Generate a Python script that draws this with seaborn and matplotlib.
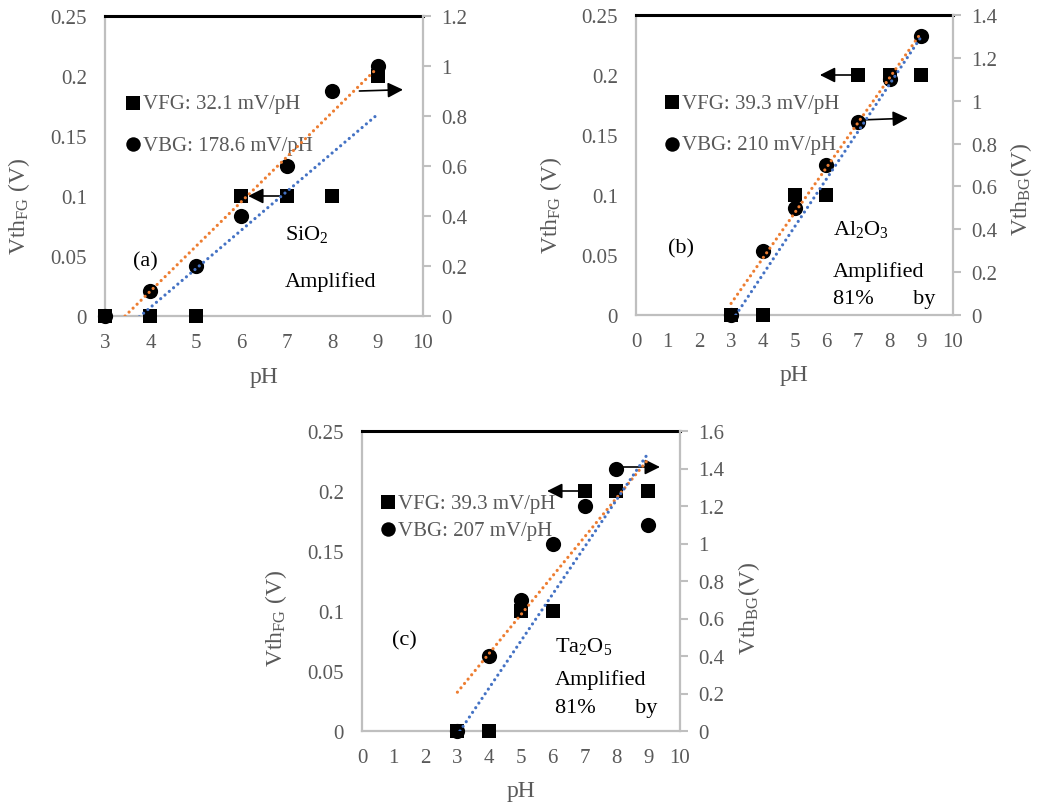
import matplotlib
matplotlib.use("Agg")
import matplotlib.pyplot as plt
import seaborn as sns

# ---------------- data ----------------
ph = [3, 4, 5, 6, 7, 8, 9]
vfg_a = [0, 0, 0, 0.1, 0.1, 0.1, 0.2]
vbg_a = [0, 0.1, 0.2, 0.4, 0.6, 0.9, 1.0]
vfg_b = [0, 0, 0.1, 0.1, 0.2, 0.2, 0.2]
vbg_b = [0, 0.3, 0.5, 0.7, 0.9, 1.1, 1.3]
vfg_c = [0, 0, 0.1, 0.1, 0.2, 0.2, 0.2]
vbg_c = [0, 0.4, 0.7, 1.0, 1.2, 1.4, 1.1]

# trendline end points (FG in left-axis units, BG in right-axis units)
fg_trend_x_a = [3, 9]
fg_trend_y_a = [-0.025, 0.168]
bg_trend_x_a = [3, 9]
bg_trend_y_a = [-0.079, 0.993]
fg_trend_x_b = [3.15, 9.0]
fg_trend_y_b = [0.0, 0.232]
bg_trend_x_b = [3, 9]
bg_trend_y_b = [0.054, 1.318]
fg_trend_x_c = [3.08, 8.96]
fg_trend_y_c = [0.0, 0.23]
bg_trend_x_c = [3, 9]
bg_trend_y_c = [0.207, 1.449]

legend_fg = ["VFG: 32.1 mV/pH", "VFG: 39.3 mV/pH", "VFG: 39.3 mV/pH"]
legend_bg = ["VBG: 178.6 mV/pH", "VBG: 210 mV/pH", "VBG: 207 mV/pH"]
left_ticks = [0, 0.05, 0.1, 0.15, 0.2, 0.25]
left_ticklabels = ["0", "0.05", "0.1", "0.15", "0.2", "0.25"]
right_ticks_a = [0, 0.2, 0.4, 0.6, 0.8, 1.0, 1.2]
right_ticklabels_a = ["0", "0.2", "0.4", "0.6", "0.8", "1", "1.2"]
right_ticks_b = [0, 0.2, 0.4, 0.6, 0.8, 1.0, 1.2, 1.4]
right_ticklabels_b = ["0", "0.2", "0.4", "0.6", "0.8", "1", "1.2", "1.4"]
right_ticks_c = [0, 0.2, 0.4, 0.6, 0.8, 1.0, 1.2, 1.4, 1.6]
right_ticklabels_c = ["0", "0.2", "0.4", "0.6", "0.8", "1", "1.2", "1.4", "1.6"]
x_ticks_a = [3, 4, 5, 6, 7, 8, 9, 10]
x_ticks_bc = [0, 1, 2, 3, 4, 5, 6, 7, 8, 9, 10]

# ---------------- style ----------------
sns.set_theme(style="white")
plt.rcParams["font.family"] = ["Liberation Serif", "DejaVu Serif"]
plt.rcParams["mathtext.fontset"] = "custom"
plt.rcParams["mathtext.rm"] = "Liberation Serif"
plt.rcParams["mathtext.it"] = "Liberation Serif:italic"
plt.rcParams["mathtext.bf"] = "Liberation Serif:bold"

GRAY_TXT = "#595959"
SPINE = "#BFBFBF"
BLUE = "#4472C4"
ORANGE = "#ED7D31"
DOT = (0, (0.01, 1.75))

fig = plt.figure(figsize=(10.4, 8.03), dpi=100)


def panel(rect, fg, bg, xt, rt, rtl, rmax, fgx, fgy, bgx, bgy, leg_fg, leg_bg,
          leg_anchor, leg_spacing, show_right_label, lab_y_left, lab_y_right):
    ax = fig.add_axes(rect)
    ax2 = ax.twinx()
    sns.scatterplot(x=ph, y=fg, marker="s", s=105, color="black", edgecolor="black",
                    linewidth=0, ax=ax, clip_on=False, zorder=3, label=leg_fg, legend=False)
    sns.scatterplot(x=ph, y=bg, marker="o", s=120, color="black", edgecolor="black",
                    linewidth=0, ax=ax2, clip_on=False, zorder=3, label=leg_bg, legend=False)
    sns.lineplot(x=bgx, y=bgy, ax=ax2, color=ORANGE, lw=2.3, linestyle=DOT,
                 dash_capstyle="round", sort=False, estimator=None, zorder=4)
    sns.lineplot(x=fgx, y=fgy, ax=ax2, color=BLUE, lw=2.3, linestyle=DOT,
                 dash_capstyle="round", sort=False, estimator=None, zorder=4,
                 transform=ax.transData)

    ax.set_xlim(xt[0], xt[-1])
    ax.set_ylim(0, 0.25)
    ax2.set_ylim(0, rmax)
    ax.set_xticks(xt)
    ax.set_xticklabels([str(v) for v in xt])
    ax.set_yticks(left_ticks)
    ax.set_yticklabels(left_ticklabels)
    ax2.set_yticks(rt)
    ax2.set_yticklabels(rtl)

    ax.tick_params(axis="both", length=0, labelsize=15, labelcolor=GRAY_TXT)
    ax.tick_params(axis="y", pad=13)
    ax.tick_params(axis="x", pad=12)
    ax2.tick_params(axis="y", length=6, width=1.5, color=SPINE, labelsize=15,
                    labelcolor=GRAY_TXT, pad=7, direction="out")

    for s in ["left", "bottom"]:
        ax.spines[s].set_color(SPINE)
        ax.spines[s].set_linewidth(1.6)
    ax.spines["top"].set_color("black")
    ax.spines["top"].set_linewidth(2.2)
    ax.spines["right"].set_visible(False)
    for s in ["left", "bottom", "top"]:
        ax2.spines[s].set_visible(False)
    ax2.spines["right"].set_color(SPINE)
    ax2.spines["right"].set_linewidth(1.6)

    ax.set_xlabel("pH", fontsize=17, color=GRAY_TXT)
    ax.xaxis.set_label_coords(0.5, -0.165)
    ax.set_ylabel(r"Vth$_{\mathrm{FG}}$ (V)", fontsize=17, color=GRAY_TXT)
    ax.yaxis.set_label_coords(-0.228, lab_y_left)
    if show_right_label:
        ax2.set_ylabel(r"Vth$_{\mathrm{BG}}$(V)", fontsize=17, color=GRAY_TXT)
        ax2.yaxis.set_label_coords(1.175, lab_y_right)
    else:
        ax2.set_ylabel("")

    handles = [ax.collections[0], ax2.collections[0]]
    leg = ax2.legend(handles=handles, labels=[leg_fg, leg_bg], loc="center left",
                     bbox_to_anchor=leg_anchor, frameon=False, fontsize=15,
                     labelcolor=GRAY_TXT, handlelength=0.55, handletextpad=0.2,
                     labelspacing=leg_spacing, borderpad=0, borderaxespad=0,
                     markerscale=0.95)
    leg.set_zorder(2)
    return ax, ax2


arrow_kw = dict(arrowstyle="-|>", color="black", lw=1.2, mutation_scale=23,
                shrinkA=0, shrinkB=0)

# panel (a)
ax, ax2 = panel([105 / 1040, 1 - 317 / 803, 318 / 1040, 300 / 803], vfg_a, vbg_a,
                x_ticks_a, right_ticks_a, right_ticklabels_a, 1.2,
                fg_trend_x_a, fg_trend_y_a, bg_trend_x_a, bg_trend_y_a,
                legend_fg[0], legend_bg[0], (0.069, 0.64), 1.05, False, 0.367, 0.42)
ax.text(3.62, 0.0417, "(a)", fontsize=16, color="black")
ax.text(6.96, 0.064, r"SiO$_2$", fontsize=16, color="black")
ax.text(6.96, 0.025, "Amplified", fontsize=16, color="black")
ax2.annotate("", xy=(6.15, 0.1), xytext=(7.0, 0.1), xycoords=ax.transData,
             textcoords=ax.transData, arrowprops=arrow_kw, annotation_clip=False)
ax2.annotate("", xy=(9.56, 0.1886), xytext=(8.6, 0.1875), xycoords=ax.transData,
             textcoords=ax.transData, arrowprops=arrow_kw, annotation_clip=False)

# panel (b)
ax, ax2 = panel([636 / 1040, 1 - 316 / 803, 317 / 1040, 300 / 803], vfg_b, vbg_b,
                x_ticks_bc, right_ticks_b, right_ticklabels_b, 1.4,
                fg_trend_x_b, fg_trend_y_b, bg_trend_x_b, bg_trend_y_b,
                legend_fg[1], legend_bg[1], (0.095, 0.638), 1.05, True, 0.37, 0.42)
ax.text(1.01, 0.0525, "(b)", fontsize=16, color="black")
ax.text(6.21, 0.0675, r"Al$_2$O$_3$", fontsize=16, color="black")
ax.text(6.21, 0.0325, "Amplified", fontsize=16, color="black")
ax.text(6.21, 0.010, "81%       by", fontsize=16, color="black")
ax2.annotate("", xy=(5.8, 0.2), xytext=(7.0, 0.2), xycoords=ax.transData,
             textcoords=ax.transData, arrowprops=arrow_kw, annotation_clip=False)
ax2.annotate("", xy=(8.58, 0.164), xytext=(7.07, 0.1625), xycoords=ax.transData,
             textcoords=ax.transData, arrowprops=arrow_kw, annotation_clip=False)

# panel (c)
ax, ax2 = panel([362 / 1040, 1 - 732 / 803, 318 / 1040, 300 / 803], vfg_c, vbg_c,
                x_ticks_bc, right_ticks_c, right_ticklabels_c, 1.6,
                fg_trend_x_c, fg_trend_y_c, bg_trend_x_c, bg_trend_y_c,
                legend_fg[2], legend_bg[2], (0.063, 0.715), 0.35, True, 0.377, 0.413)
ax.text(0.94, 0.072, "(c)", fontsize=16, color="black")
ax.text(6.07, 0.0667, r"Ta$_2$O$_5$", fontsize=16, color="black")
ax.text(6.07, 0.039, "Amplified", fontsize=16, color="black")
ax.text(6.07, 0.016, "81%       by", fontsize=16, color="black")
ax2.annotate("", xy=(5.82, 0.2), xytext=(7.0, 0.2), xycoords=ax.transData,
             textcoords=ax.transData, arrowprops=arrow_kw, annotation_clip=False)
ax2.annotate("", xy=(9.37, 0.22), xytext=(8.0, 0.22), xycoords=ax.transData,
             textcoords=ax.transData, arrowprops=arrow_kw, annotation_clip=False)

fig.savefig("out.png", dpi=100, facecolor="white")
